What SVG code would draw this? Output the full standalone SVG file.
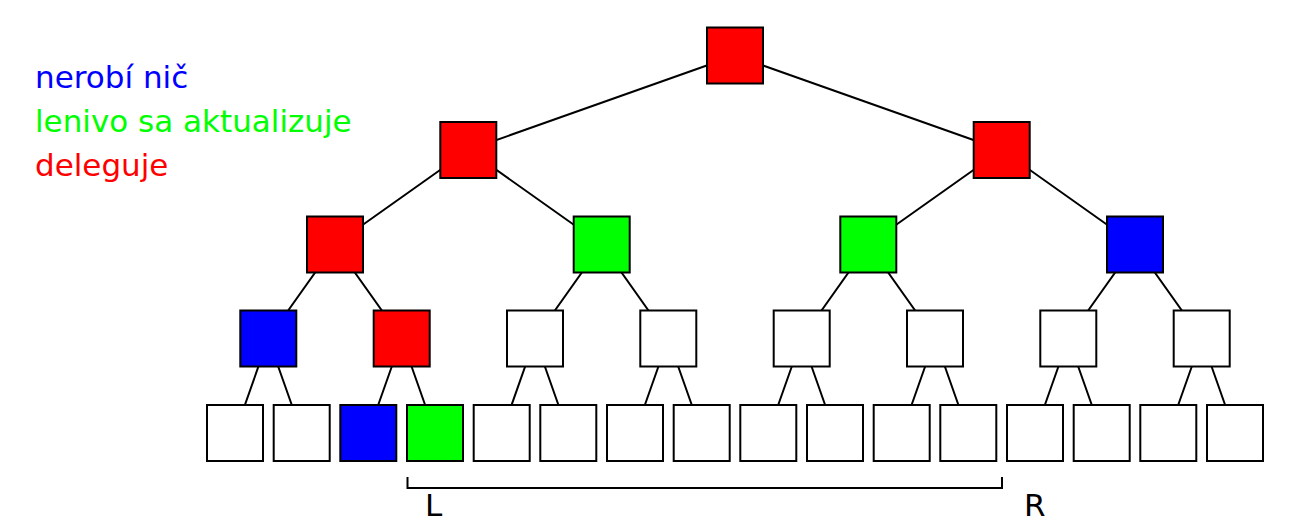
<svg xmlns="http://www.w3.org/2000/svg" width="1302" height="530" viewBox="0 0 1302 530">
<style>
.n{stroke:#000;stroke-width:2}
.w{fill:#fff}.r{fill:#f00}.g{fill:#0f0}.b{fill:#00f}
.e{stroke:#000;stroke-width:2;fill:none}
text{font-family:"DejaVu Sans",sans-serif;font-size:31px}
</style>
<rect width="1302" height="530" fill="#fff"/>
<g id="legend">
<text x="35" y="88" fill="#00f">nerobí nič</text>
<text x="35" y="132" fill="#0f0">lenivo sa aktualizuje</text>
<text x="35" y="176" fill="#f00">deleguje</text>
</g>
<g id="connectors" class="e">
<path d="M735 55.5L468.3 150M735 55.5L1001.7 150"/>
<path d="M468.3 150L335 244.5M468.3 150L601.7 244.5M1001.7 150L868.3 244.5M1001.7 150L1135 244.5"/>
<path d="M335 244.5L268.3 338.5M335 244.5L401.7 338.5M601.7 244.5L535 338.5M601.7 244.5L668.3 338.5M868.3 244.5L801.7 338.5M868.3 244.5L935 338.5M1135 244.5L1068.3 338.5M1135 244.5L1201.7 338.5"/>
<path d="M268.3 338.5L235 433M268.3 338.5L301.7 433M401.7 338.5L368.3 433M401.7 338.5L435 433M535 338.5L501.7 433M535 338.5L568.3 433M668.3 338.5L635 433M668.3 338.5L701.7 433M801.7 338.5L768.3 433M801.7 338.5L835 433M935 338.5L901.7 433M935 338.5L968.3 433M1068.3 338.5L1035 433M1068.3 338.5L1101.7 433M1201.7 338.5L1168.3 433M1201.7 338.5L1235 433"/>
</g>
<g id="root"><rect class="n r" x="707" y="27.5" width="56" height="56"/></g>
<g id="l1a"><rect class="n r" x="440.3" y="122" width="56" height="56"/></g>
<g id="l1b"><rect class="n r" x="973.7" y="122" width="56" height="56"/></g>
<g id="l2a"><rect class="n r" x="307" y="216.5" width="56" height="56"/></g>
<g id="l2b"><rect class="n g" x="573.7" y="216.5" width="56" height="56"/></g>
<g id="l2c"><rect class="n g" x="840.3" y="216.5" width="56" height="56"/></g>
<g id="l2d"><rect class="n b" x="1107" y="216.5" width="56" height="56"/></g>
<g id="l3a"><rect class="n b" x="240.3" y="310.5" width="56" height="56"/></g>
<g id="l3b"><rect class="n r" x="373.7" y="310.5" width="56" height="56"/></g>
<g id="l3c"><rect class="n w" x="507" y="310.5" width="56" height="56"/></g>
<g id="l3d"><rect class="n w" x="640.3" y="310.5" width="56" height="56"/></g>
<g id="l3e"><rect class="n w" x="773.7" y="310.5" width="56" height="56"/></g>
<g id="l3f"><rect class="n w" x="907" y="310.5" width="56" height="56"/></g>
<g id="l3g"><rect class="n w" x="1040.3" y="310.5" width="56" height="56"/></g>
<g id="l3h"><rect class="n w" x="1173.7" y="310.5" width="56" height="56"/></g>
<g id="leaf1"><rect class="n w" x="207" y="405" width="56" height="56"/></g>
<g id="leaf2"><rect class="n w" x="273.7" y="405" width="56" height="56"/></g>
<g id="leaf3"><rect class="n b" x="340.3" y="405" width="56" height="56"/></g>
<g id="leaf4"><rect class="n g" x="407" y="405" width="56" height="56"/></g>
<g id="leaf5"><rect class="n w" x="473.7" y="405" width="56" height="56"/></g>
<g id="leaf6"><rect class="n w" x="540.3" y="405" width="56" height="56"/></g>
<g id="leaf7"><rect class="n w" x="607" y="405" width="56" height="56"/></g>
<g id="leaf8"><rect class="n w" x="673.7" y="405" width="56" height="56"/></g>
<g id="leaf9"><rect class="n w" x="740.3" y="405" width="56" height="56"/></g>
<g id="leaf10"><rect class="n w" x="807" y="405" width="56" height="56"/></g>
<g id="leaf11"><rect class="n w" x="873.7" y="405" width="56" height="56"/></g>
<g id="leaf12"><rect class="n w" x="940.3" y="405" width="56" height="56"/></g>
<g id="leaf13"><rect class="n w" x="1007" y="405" width="56" height="56"/></g>
<g id="leaf14"><rect class="n w" x="1073.7" y="405" width="56" height="56"/></g>
<g id="leaf15"><rect class="n w" x="1140.3" y="405" width="56" height="56"/></g>
<g id="leaf16"><rect class="n w" x="1207" y="405" width="56" height="56"/></g>
<g id="range">
<path class="e" d="M407.5 477V488H1002V477"/>
<text x="425" y="516">L</text>
<text x="1024" y="516">R</text>
</g>
</svg>
